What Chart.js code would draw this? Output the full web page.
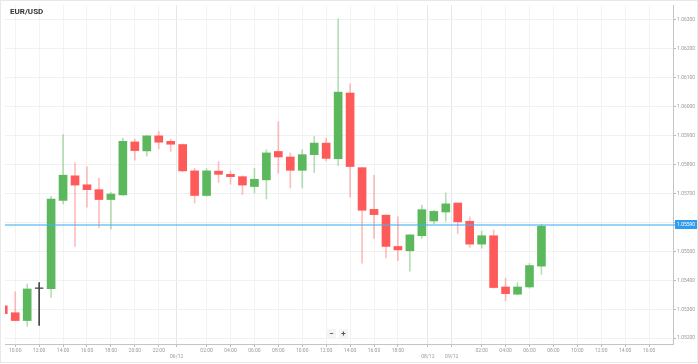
<!DOCTYPE html>
<html>
<head>
<meta charset="utf-8">
<script src="https://cdn.jsdelivr.net/npm/chart.js@4.4.1/dist/chart.umd.min.js"></script>
<style>
  html, body { margin: 0; padding: 0; background: #fff; }
  #wrap { position: relative; width: 698px; height: 364px; }
  #title { position: absolute; left: 10px; top: 7px; font: bold 8px Roboto, sans-serif; color: #333; }
  .zbtn { position: absolute; top: 329px; width: 9px; height: 9px; line-height: 9px; text-align: center;
          font: bold 8px Roboto, sans-serif; color: #555; background: #f4f4f4; border-radius: 1px; }
</style>
</head>
<body>
<div id="wrap">
  <canvas id="chart" width="698" height="364"></canvas>
  <div id="title">EUR/USD</div>
  <div class="zbtn" style="left:327px">&minus;</div>
  <div class="zbtn" style="left:339px">+</div>
</div>
<script>
// hourly candles, slot index (0 = 10:00 first day)
const slots  = [-1, 0, 1, 2, 3, 4, 5, 6, 7, 8, 9, 10, 11, 12, 13, 14, 15, 16, 17, 18, 19, 20, 21,
                22, 23, 24, 25, 26, 27, 28, 29, 30, 31, 32, 33, 34, 35, 36, 37, 38, 39, 40, 41, 42, 43, 44];
const opens  = [1.05312, 1.05288, 1.05261, 1.05373, 1.05371, 1.05676, 1.05761, 1.05730, 1.05713, 1.05679,
                1.05695, 1.05878, 1.05847, 1.05899, 1.05880, 1.05869, 1.05778, 1.05693, 1.05777, 1.05766,
                1.05758, 1.05724, 1.05747, 1.05845, 1.05826, 1.05780, 1.05834, 1.05874, 1.05820, 1.06047,
                1.05789, 1.05645, 1.05625, 1.05517, 1.05502, 1.05554, 1.05605, 1.05636, 1.05667, 1.05604,
                1.05525, 1.05554, 1.05377, 1.05352, 1.05377, 1.05449];
const highs  = [1.05319, 1.05360, 1.05387, 1.05392, 1.05690, 1.05903, 1.05806, 1.05792, 1.05753, 1.05704,
                1.05891, 1.05888, 1.05900, 1.05914, 1.05888, 1.05871, 1.05787, 1.05786, 1.05810, 1.05778,
                1.05761, 1.05787, 1.05851, 1.05948, 1.05840, 1.05851, 1.05897, 1.05891, 1.06303, 1.06079,
                1.05790, 1.05763, 1.05626, 1.05619, 1.05558, 1.05660, 1.05642, 1.05702, 1.05667, 1.05619,
                1.05570, 1.05574, 1.05407, 1.05392, 1.05458, 1.05593];
const lows   = [1.05278, 1.05260, 1.05241, 1.05244, 1.05341, 1.05664, 1.05517, 1.05653, 1.05582, 1.05577,
                1.05693, 1.05815, 1.05829, 1.05854, 1.05845, 1.05775, 1.05667, 1.05690, 1.05738, 1.05732,
                1.05696, 1.05702, 1.05681, 1.05770, 1.05719, 1.05719, 1.05772, 1.05812, 1.05797, 1.05687,
                1.05459, 1.05545, 1.05477, 1.05468, 1.05432, 1.05545, 1.05596, 1.05604, 1.05562, 1.05514,
                1.05511, 1.05373, 1.05329, 1.05350, 1.05373, 1.05420];
const closes = [1.05285, 1.05261, 1.05370, 1.05373, 1.05681, 1.05763, 1.05729, 1.05713, 1.05679, 1.05698,
                1.05880, 1.05848, 1.05899, 1.05877, 1.05870, 1.05778, 1.05693, 1.05778, 1.05766, 1.05758,
                1.05729, 1.05749, 1.05840, 1.05826, 1.05780, 1.05834, 1.05874, 1.05821, 1.06050, 1.05793,
                1.05642, 1.05627, 1.05517, 1.05505, 1.05557, 1.05644, 1.05638, 1.05664, 1.05602, 1.05525,
                1.05554, 1.05375, 1.05354, 1.05377, 1.05451, 1.05587];

const currentPrice = 1.05590;

const xTickPos    = [0, 2, 4, 6, 8, 10, 12, 13.5, 16, 18, 20, 22, 24, 26, 28, 30, 32, 34.5, 36.5,
                     39, 41, 43, 45, 47, 49, 51, 53];
const xTickLabels = ['10:00', '12:00', '14:00', '16:00', '18:00', '20:00', '22:00', '06/12', '02:00',
                     '04:00', '06:00', '08:00', '10:00', '12:00', '14:00', '16:00', '18:00', '08/12',
                     '09/12', '02:00', '04:00', '06:00', '08:00', '10:00', '12:00', '14:00', '16:00'];
const yTicks = [1.052, 1.053, 1.054, 1.055, 1.056, 1.057, 1.058, 1.059, 1.060, 1.061, 1.062, 1.063];

const UP = '#5cb85c', DOWN = '#ff5a5a', DOJI = '#444';
const UP_WICK = 'rgba(92,184,92,0.45)', DOWN_WICK = 'rgba(255,90,90,0.4)';

const bodyColors = slots.map((s, i) => closes[i] > opens[i] ? UP : closes[i] < opens[i] ? DOWN : DOJI);
const wickColors = slots.map((s, i) => closes[i] > opens[i] ? UP_WICK : closes[i] < opens[i] ? DOWN_WICK : DOJI);
const isDate = l => l.indexOf('/') >= 0;

const priceLine = {
  id: 'priceLine',
  afterDraw(chart) {
    const { ctx, chartArea, scales } = chart;
    const y = Math.round(scales.y.getPixelForValue(currentPrice));
    ctx.save();
    // current price line + tag on the axis
    ctx.fillStyle = 'rgba(70,175,245,0.55)';
    ctx.fillRect(chartArea.left, y - 1, chartArea.right + 2 - chartArea.left, 2);
    ctx.fillStyle = '#2f9cf0';
    ctx.fillRect(chartArea.right + 2, y - 5, 22, 9);
    ctx.fillStyle = '#fff';
    ctx.font = '5px Roboto';
    ctx.textBaseline = 'middle';
    ctx.fillText(currentPrice.toFixed(5), chartArea.right + 4, y - 0.5);
    // outer frame
    ctx.strokeStyle = '#e8e8e8';
    ctx.strokeRect(0.5, 0.5, 697, 362);
    ctx.restore();
  }
};

new Chart(document.getElementById('chart'), {
  data: {
    datasets: [
      {
        type: 'scatter',
        data: slots.filter((s, i) => opens[i] === closes[i]).map(s => ({ x: s, y: opens[slots.indexOf(s)] })),
        pointStyle: 'line', radius: 4, borderColor: DOJI, borderWidth: 1, order: 0
      },
      {
        type: 'bar',
        data: slots.map((s, i) => ({ x: s, y: [opens[i], closes[i]] })),
        backgroundColor: bodyColors, barThickness: 8, grouped: false, order: 1
      },
      {
        type: 'bar',
        data: slots.map((s, i) => ({ x: s, y: [lows[i], highs[i]] })),
        backgroundColor: wickColors, barThickness: 1, grouped: false, order: 2
      }
    ]
  },
  options: {
    responsive: false,
    animation: false,
    layout: { padding: 0 },
    plugins: { legend: { display: false }, tooltip: { enabled: false } },
    scales: {
      x: {
        type: 'linear', min: -0.855, max: 55.0, offset: false,
        afterBuildTicks: s => { s.ticks = xTickPos.map(v => ({ value: v })); },
        afterFit: s => { s.height = 20; },
        ticks: {
          autoSkip: false, maxRotation: 0, padding: 1, color: '#999',
          font: { family: 'Roboto', size: 5 },
          callback: (v, i) => isDate(xTickLabels[i]) ? ['', xTickLabels[i]] : xTickLabels[i]
        },
        grid: {
          offset: false, tickLength: 3, tickColor: '#bbb',
          color: c => c.tick && isDate(xTickLabels[c.index]) ? '#e6e6e6' : '#f3f3f3'
        },
        border: { color: '#c4c4c4' }
      },
      y: {
        position: 'right', min: 1.0518, max: 1.06351,
        afterBuildTicks: s => { s.ticks = yTicks.map(v => ({ value: v })); },
        afterFit: s => { s.width = 25; },
        ticks: { padding: 1, color: '#999', font: { family: 'Roboto', size: 5 }, callback: v => v.toFixed(5) },
        grid: { tickLength: 3, tickColor: '#bbb', color: '#f1f1f1' },
        border: { color: '#c4c4c4' }
      }
    }
  },
  plugins: [priceLine]
});
</script>
</body>
</html>
